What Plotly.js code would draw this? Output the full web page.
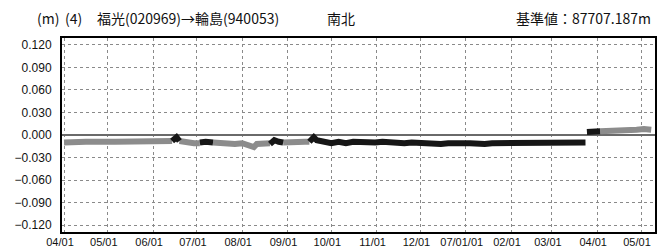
<!DOCTYPE html>
<html>
<head>
<meta charset="utf-8">
<script src="https://cdn.plot.ly/plotly-3.0.1.min.js"></script>
<style>html,body{margin:0;padding:0;background:#fff;}#chart{width:669px;height:247px;}</style>
</head>
<body>
<div id="chart"></div>
<script>
// gray series (null = break between segments)
var grayX = [
 '2006-04-01','2006-04-06','2006-04-11','2006-04-16','2006-04-21','2006-04-26','2006-05-01','2006-05-06',
 '2006-05-11','2006-05-16','2006-05-21','2006-05-26','2006-05-31','2006-06-05','2006-06-10','2006-06-14',
 '2006-06-15',
 '2006-06-19','2006-06-24','2006-06-29','2006-07-03',
 '2006-07-04',
 '2006-07-12','2006-07-17','2006-07-22','2006-07-27','2006-08-01','2006-08-06','2006-08-09','2006-08-11','2006-08-16','2006-08-20',
 '2006-08-21',
 '2006-08-29','2006-09-03','2006-09-08','2006-09-13','2006-09-16',
 '2006-09-17',
 '2007-04-03','2007-04-08','2007-04-13','2007-04-18','2007-04-23','2007-04-28','2007-05-03','2007-05-08'
];
var grayY = [
 -0.010,-0.009,-0.010,-0.009,-0.009,-0.010,-0.009,-0.009,
 -0.009,-0.010,-0.009,-0.009,-0.008,-0.009,-0.009,-0.008,
 null,
 -0.008,-0.010,-0.011,-0.011,
 null,
 -0.010,-0.011,-0.010,-0.012,-0.011,-0.013,-0.016,-0.012,-0.011,-0.011,
 null,
 -0.010,-0.009,-0.010,-0.009,-0.009,
 null,
 0.005,0.005,0.006,0.006,0.007,0.007,0.008,0.007
];
// black series
var blackX = [
 '2006-06-14','2006-06-16','2006-06-17','2006-06-19',
 '2006-06-20',
 '2006-07-03','2006-07-07','2006-07-12',
 '2006-07-13',
 '2006-08-20','2006-08-23','2006-08-26','2006-08-29',
 '2006-08-30',
 '2006-09-16','2006-09-19','2006-09-21','2006-09-26','2006-10-01','2006-10-06','2006-10-11','2006-10-16',
 '2006-10-21','2006-10-26','2006-10-31','2006-11-05','2006-11-10','2006-11-15','2006-11-20','2006-11-25',
 '2006-11-30','2006-12-05','2006-12-10','2006-12-15','2006-12-20','2006-12-25','2006-12-30','2007-01-04',
 '2007-01-09','2007-01-14','2007-01-19','2007-01-24','2007-01-29','2007-02-03','2007-02-08','2007-02-13',
 '2007-02-18','2007-02-23','2007-02-28','2007-03-05','2007-03-10','2007-03-15','2007-03-20','2007-03-24',
 '2007-03-24 12:00',
 '2007-03-25','2007-03-29','2007-04-03'
];
var blackY = [
 -0.008,-0.004,-0.003,-0.008,
 null,
 -0.010,-0.009,-0.010,
 null,
 -0.012,-0.007,-0.009,-0.010,
 null,
 -0.009,-0.003,-0.007,-0.009,-0.011,-0.009,-0.011,-0.009,
 -0.010,-0.009,-0.010,-0.009,-0.010,-0.011,-0.011,-0.010,
 -0.011,-0.012,-0.011,-0.012,-0.011,-0.012,-0.011,-0.011,
 -0.012,-0.012,-0.011,-0.011,-0.011,-0.011,-0.010,-0.011,
 -0.011,-0.011,-0.011,-0.011,-0.011,-0.011,-0.011,-0.010,
 null,
 0.004,0.005,0.005
];
var xTickVals = ['2006-04-01','2006-05-01','2006-06-01','2006-07-01','2006-08-01','2006-09-01','2006-10-01',
 '2006-11-01','2006-12-01','2007-01-01','2007-02-01','2007-03-01','2007-04-01','2007-05-01'];
var xTickText = ['04/01','05/01','06/01','07/01','08/01','09/01','10/01',
 '11/01','12/01','07/01/01','02/01','03/01','04/01','05/01'];
var yTickVals = [0.12,0.09,0.06,0.03,0,-0.03,-0.06,-0.09,-0.12];
var yTickText = ['0.120','0.090','0.060','0.030','0.000','\u22120.030','\u22120.060','\u22120.090','\u22120.120'];

var traces = [
 {x: grayX, y: grayY, type:'scatter', mode:'lines', connectgaps:false,
  line:{color:'#8c8c8c', width:6}, hoverinfo:'skip'},
 {x: blackX, y: blackY, type:'scatter', mode:'lines', connectgaps:false,
  line:{color:'#161616', width:6}, hoverinfo:'skip'}
];
var tf = {family:'Noto Sans CJK JP, Noto Sans, sans-serif', size:14, color:'#111'};
var layout = {
 width:669, height:247,
 margin:{l:62, r:14, t:38, b:15},
 paper_bgcolor:'#fff', plot_bgcolor:'#fff',
 showlegend:false,
 font:{family:'Liberation Sans, Arial, sans-serif', size:12, color:'#111'},
 xaxis:{type:'date', range:['2006-03-30 15:00','2007-05-10 14:00'],
  tickvals:xTickVals, ticktext:xTickText, tickangle:0,
  showgrid:true, gridcolor:'#8a8a8a', griddash:'dot', gridwidth:1,
  showline:true, mirror:true, linecolor:'#000', linewidth:2,
  ticks:'', zeroline:false, ticklabelshift:-4, ticklabelstandoff:-1,
  tickfont:{family:'Liberation Sans, Arial, sans-serif', size:11, color:'#111'}},
 yaxis:{range:[-0.1293,0.1293], tickvals:yTickVals, ticktext:yTickText,
  showgrid:true, gridcolor:'#8a8a8a', griddash:'dot', gridwidth:1,
  showline:true, mirror:true, linecolor:'#000', linewidth:2,
  ticks:'', zeroline:true, zerolinecolor:'#6a6a6a', zerolinewidth:2,
  ticklabelstandoff:6,
  tickfont:{family:'Liberation Sans, Arial, sans-serif', size:12, color:'#111'}},
 annotations:[
  {text:'(m)', xref:'paper', yref:'paper', x:-0.0458, y:1.0, yshift:20, xanchor:'left', yanchor:'middle', showarrow:false, font:tf},
  {text:'(4)', xref:'paper', yref:'paper', x:0.0017, y:1.0, yshift:20, xanchor:'left', yanchor:'middle', showarrow:false, font:tf},
  {text:'福光(020969)→輪島(940053)', xref:'paper', yref:'paper', x:0.0556, y:1.0, yshift:20, xanchor:'left', yanchor:'middle', showarrow:false, font:tf},
  {text:'南北', xref:'paper', yref:'paper', x:0.4435, y:1.0, yshift:20, xanchor:'left', yanchor:'middle', showarrow:false, font:tf},
  {text:'基準値：87707.187m', xref:'paper', yref:'paper', x:0.9966, y:1.0, yshift:20, xanchor:'right', yanchor:'middle', showarrow:false, font:tf}
 ]
};
Plotly.newPlot('chart', traces, layout, {staticPlot:true, displayModeBar:false});
</script>
</body>
</html>
